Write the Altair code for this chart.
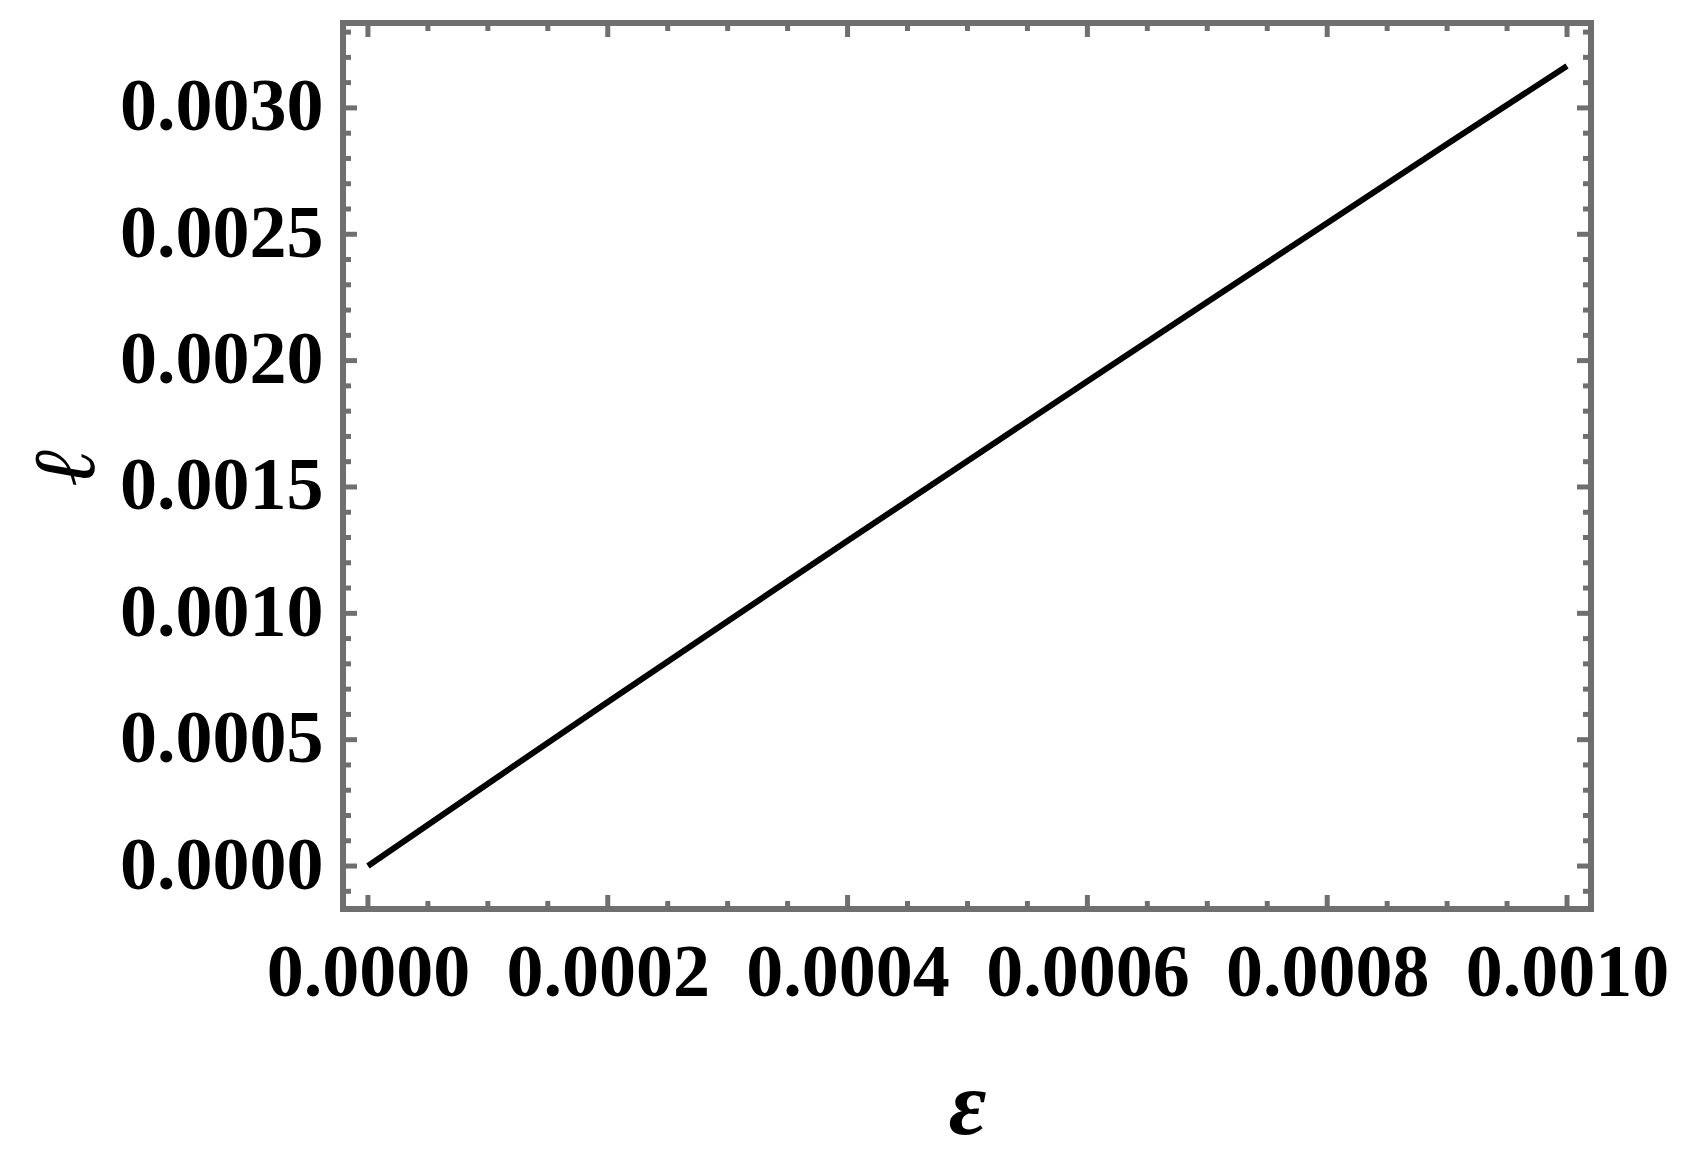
import altair as alt
import pandas as pd

# data
eps = [0.0, 0.0001, 0.0002, 0.0003, 0.0004, 0.0005, 0.0006, 0.0007, 0.0008, 0.0009, 0.0010]
ell = [0.0, 0.000326, 0.000649, 0.000969, 0.001287, 0.001603, 0.001918, 0.002232, 0.002545, 0.002857, 0.003166]

x_major = [0.0, 0.0002, 0.0004, 0.0006, 0.0008, 0.0010]
x_minor = [0.00005, 0.0001, 0.00015, 0.00025, 0.0003, 0.00035, 0.00045, 0.0005, 0.00055,
           0.00065, 0.0007, 0.00075, 0.00085, 0.0009, 0.00095]
y_major = [0.0, 0.0005, 0.0010, 0.0015, 0.0020, 0.0025, 0.0030]
y_minor = [-0.0001, 0.0001, 0.0002, 0.0003, 0.0004, 0.0006, 0.0007, 0.0008, 0.0009,
           0.0011, 0.0012, 0.0013, 0.0014, 0.0016, 0.0017, 0.0018, 0.0019,
           0.0021, 0.0022, 0.0023, 0.0024, 0.0026, 0.0027, 0.0028, 0.0029,
           0.0031, 0.0032, 0.0033]

W, H = 1248, 886
XDOM = [-0.0000208, 0.00102]
YDOM = [-0.00017, 0.003336]
FRAME = "#6f6f6f"
FONT = "Liberation Serif"

xs = alt.Scale(domain=XDOM, nice=False, zero=False)
ys = alt.Scale(domain=YDOM, nice=False, zero=False)

df = pd.DataFrame({"eps": eps, "ell": ell})

x_axis = alt.Axis(values=x_major, format=".4f", title="ε", domain=False, ticks=False,
                  tickSize=0, grid=False, labelPadding=28, titlePadding=50, labelLimit=0,
                  labelFont=FONT, labelFontSize=74, labelFontWeight="bold", labelColor="black",
                  titleFont=FONT, titleFontSize=92, titleFontWeight="bold",
                  titleFontStyle="italic", titleColor="black")
y_axis = alt.Axis(values=y_major, format=".4f", title="ℓ", domain=False, ticks=False,
                  tickSize=0, grid=False, labelPadding=20, titlePadding=32, labelLimit=0,
                  labelFont=FONT, labelFontSize=74, labelFontWeight="bold", labelColor="black",
                  titleFont=FONT, titleFontSize=88, titleFontWeight="bold",
                  titleFontStyle="italic", titleColor="black")

line = alt.Chart(df).mark_line(color="black", strokeWidth=6, clip=True).encode(
    x=alt.X("eps:Q", scale=xs, axis=x_axis),
    y=alt.Y("ell:Q", scale=ys, axis=y_axis),
)


def xticks(vals, length):
    d = pd.DataFrame({"eps": vals})
    base = alt.Chart(d).mark_rule(color=FRAME, strokeWidth=5)
    bottom = base.encode(x=alt.X("eps:Q", scale=xs, axis=x_axis), y=alt.value(H), y2=alt.value(H - length))
    top = base.encode(x=alt.X("eps:Q", scale=xs, axis=x_axis), y=alt.value(0), y2=alt.value(length))
    return [bottom, top]


def yticks(vals, length):
    d = pd.DataFrame({"ell": vals})
    base = alt.Chart(d).mark_rule(color=FRAME, strokeWidth=5)
    left = base.encode(y=alt.Y("ell:Q", scale=ys, axis=y_axis), x=alt.value(0), x2=alt.value(length))
    right = base.encode(y=alt.Y("ell:Q", scale=ys, axis=y_axis), x=alt.value(W), x2=alt.value(W - length))
    return [left, right]


layers = [line] + xticks(x_major, 14) + xticks(x_minor, 8) + yticks(y_major, 14) + yticks(y_minor, 8)

chart = alt.layer(*layers).properties(
    width=W, height=H,
    autosize=alt.AutoSizeParams(type="none"),
    padding={"left": 335, "top": 15, "right": 82, "bottom": 250},
    background="white",
).configure_view(stroke=FRAME, strokeWidth=6)

chart.save("out.html", embed_options={"renderer": "svg", "actions": False})
